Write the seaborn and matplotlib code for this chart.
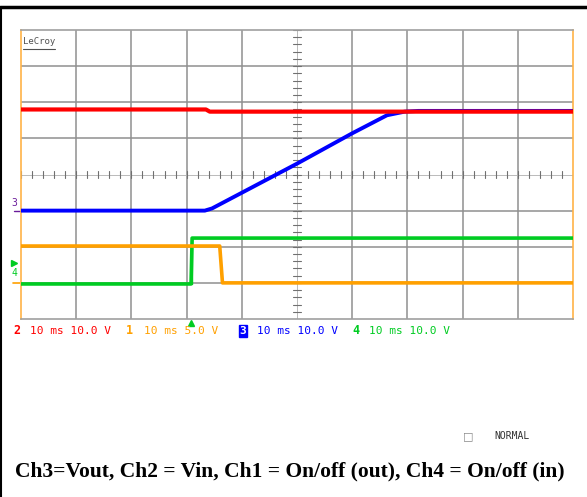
import numpy as np
import pandas as pd
import matplotlib
matplotlib.use("Agg")
import matplotlib.pyplot as plt
import seaborn as sns

# ---- data (divisions: time 0..10, level 0..8) ----
t_ch2 = [0, 3.35, 3.42, 10]
v_ch2 = [5.80, 5.80, 5.74, 5.74]
t_ch3 = [0, 3.33, 3.46, 5.0, 6.0, 6.63, 6.95, 7.2, 10]
v_ch3 = [3.0, 3.0, 3.06, 4.30, 5.14, 5.64, 5.74, 5.76, 5.76]
t_ch1 = [0, 3.60, 3.65, 10]
v_ch1 = [2.02, 2.02, 1.0, 1.0]
t_ch4 = [0, 3.08, 3.10, 10]
v_ch4 = [0.97, 0.97, 2.24, 2.24]

labels = ["10 ms 10.0 V", "10 ms 5.0 V", "10 ms 10.0 V", "10 ms 10.0 V"]
chan_ids = ["2", "1", "3", "4"]
caption = "Ch3=Vout, Ch2 = Vin, Ch1 = On/off (out), Ch4 = On/off (in)"

RED, ORANGE, BLUE, GREEN = "#ff0000", "#ffa000", "#0000ff", "#00cc22"

sns.set_style("white")
W, H = 587, 497
fig = plt.figure(figsize=(W / 100, H / 100), dpi=100)

L, R, T, B = 21, 573, 30, 319
ax = fig.add_axes([L / W, 1 - B / H, (R - L) / W, (B - T) / H])
ax.set_xlim(0, 10)
ax.set_ylim(0, 8)
ax.set_xticks([])
ax.set_yticks([])
for s in ["top", "bottom"]:
    ax.spines[s].set_color("#a0a0a0")
    ax.spines[s].set_linewidth(1.2)
for s in ["left", "right"]:
    ax.spines[s].set_color("#ffb347")
    ax.spines[s].set_linewidth(1.2)

gc = "#8f8f8f"
for i in range(1, 10):
    if i != 5:
        ax.axvline(i, color=gc, lw=1.1, zorder=1)
for j in range(1, 8):
    if j != 4:
        ax.axhline(j, color=gc, lw=1.1, zorder=1)
ax.axvline(5, color="#b0b0b0", lw=0.6, zorder=1)
ax.axhline(4, color="#b0b0b0", lw=0.6, zorder=1)
for k in np.arange(0, 10.01, 0.2):
    ax.plot([k, k], [3.9, 4.1], color="#707070", lw=0.8, zorder=1)
for k in np.arange(0, 8.01, 0.2):
    ax.plot([4.93, 5.07], [k, k], color="#707070", lw=0.8, zorder=1)

sns.lineplot(x=t_ch4, y=v_ch4, ax=ax, color=GREEN, lw=2.6, estimator=None, sort=False, zorder=3)
sns.lineplot(x=t_ch1, y=v_ch1, ax=ax, color=ORANGE, lw=2.6, estimator=None, sort=False, zorder=4)
sns.lineplot(x=t_ch3, y=v_ch3, ax=ax, color=BLUE, lw=2.8, estimator=None, sort=False, zorder=5)
sns.lineplot(x=t_ch2, y=v_ch2, ax=ax, color=RED, lw=3.0, estimator=None, sort=False, zorder=6)
# thin step edges
ax.plot([3.09, 3.09], [0.97, 2.24], color=GREEN, lw=1.0, zorder=3)

# LeCroy logo
ax.text(0.04, 7.82, "LeCroy", fontsize=6.5, family="DejaVu Sans Mono", color="#505050",
        va="top", ha="left")
ax.plot([0.04, 0.62], [7.47, 7.47], color="#505050", lw=0.8, clip_on=False)

# left markers
ax.text(-0.12, 3.2, "3", fontsize=7, color="#6a1b9a", ha="center", va="center",
        family="DejaVu Sans Mono", clip_on=False)
ax.plot([-0.13, -0.02], [3.0, 3.0], color="#6a1b9a", lw=1.0, clip_on=False)
ax.plot([-0.12], [1.55], marker=">", color=GREEN, ms=4, clip_on=False)
ax.text(-0.12, 1.27, "4", fontsize=7, color=GREEN, ha="center", va="center",
        family="DejaVu Sans Mono", clip_on=False)
ax.plot([-0.15, -0.02], [1.0, 1.0], color=ORANGE, lw=1.2, clip_on=False)
# trigger marker
ax.plot([3.08], [-0.12], marker="^", color=GREEN, ms=4, clip_on=False)

# channel labels
ch_colors = [RED, ORANGE, BLUE, GREEN]
id_x = [17, 129, 243, 356]
lab_x = [30, 144, 257, 369]
ly = 331
for cid, lab, c, ix, lx in zip(chan_ids, labels, ch_colors, id_x, lab_x):
    if cid == "3":
        fig.text(ix / W, 1 - ly / H, cid, fontsize=8, family="DejaVu Sans Mono", color="white",
                 weight="bold", ha="center", va="center",
                 bbox=dict(boxstyle="square,pad=0.05", fc=BLUE, ec=BLUE))
    else:
        fig.text(ix / W, 1 - ly / H, cid, fontsize=8.5, family="DejaVu Sans Mono", color=c,
                 weight="bold", ha="center", va="center")
    fig.text(lx / W, 1 - ly / H, lab, fontsize=8, family="DejaVu Sans Mono", color=c,
             ha="left", va="center")

# NORMAL
fig.text(468 / W, 1 - 436 / H, "\u25a1", fontsize=8, color="#888888", ha="center", va="center")
fig.text(494 / W, 1 - 436 / H, "NORMAL", fontsize=7, family="DejaVu Sans Mono", color="#333333",
         ha="left", va="center")

# caption
fig.text(15 / W, 1 - 471 / H, caption, fontsize=15.5, family="Liberation Serif", weight="bold",
         color="black", ha="left", va="center")

# page frame
fig.add_artist(plt.Line2D([0, 1], [1 - 7 / H, 1 - 7 / H], transform=fig.transFigure,
                          color="black", lw=2.5))
fig.add_artist(plt.Line2D([1 / W, 1 / W], [0, 1 - 7 / H], transform=fig.transFigure,
                          color="black", lw=1.5))
fig.text(50 / W, 1 + 6 / H, "characteristic", fontsize=11, family="Liberation Serif",
         weight="bold", ha="left", va="center")

fig.savefig("out.png", dpi=100)
